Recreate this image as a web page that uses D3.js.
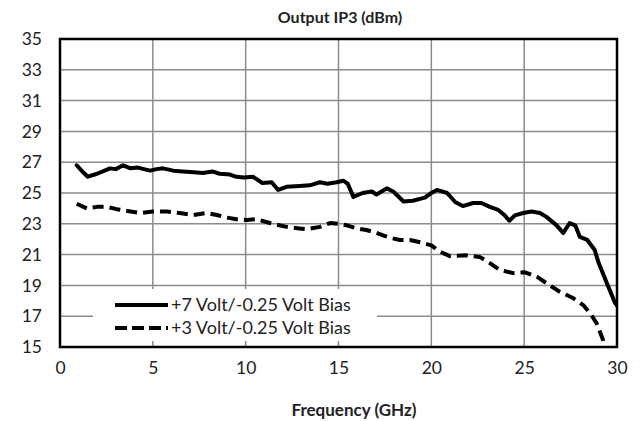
<!DOCTYPE html>
<html>
<head>
<meta charset="utf-8">
<script src="https://cdn.jsdelivr.net/npm/d3@7"></script>
<style>
  html, body { margin: 0; padding: 0; background: #fff; }
  svg text { font-family: Lato, "Open Sans", sans-serif; fill: #222; }
</style>
</head>
<body>
<svg id="chart" width="642" height="421"></svg>
<script>
// Output IP3 versus frequency for two bias conditions
const seriesNames = ["+7 Volt/-0.25 Volt Bias", "+3 Volt/-0.25 Volt Bias"];

const freqHigh = [0.9, 1.2, 1.5, 2.0, 2.4, 2.7, 3.0, 3.4, 3.8, 4.2, 4.85, 5.2, 5.55, 6.1, 6.6, 7.2, 7.7, 8.2, 8.6, 9.15, 9.5, 9.9, 10.4, 10.9, 11.4, 11.75, 12.2, 12.9, 13.45, 14.0, 14.4, 14.9, 15.25, 15.5, 15.8, 16.3, 16.8, 17.05, 17.6, 17.95, 18.5, 19.0, 19.65, 20.0, 20.3, 20.85, 21.3, 21.7, 22.25, 22.7, 23.15, 23.6, 23.95, 24.2, 24.5, 24.95, 25.4, 25.85, 26.2, 26.75, 27.1, 27.45, 27.75, 28.0, 28.4, 28.8, 29.0, 29.45, 29.9, 30.0];
const ip3High  = [26.8, 26.4, 26.06, 26.25, 26.45, 26.6, 26.55, 26.8, 26.6, 26.65, 26.45, 26.55, 26.6, 26.45, 26.4, 26.35, 26.3, 26.4, 26.25, 26.2, 26.05, 26.0, 26.05, 25.65, 25.7, 25.2, 25.4, 25.45, 25.5, 25.7, 25.6, 25.7, 25.8, 25.6, 24.75, 25.0, 25.1, 24.9, 25.3, 25.1, 24.45, 24.5, 24.7, 25.0, 25.2, 25.0, 24.4, 24.15, 24.35, 24.35, 24.1, 23.9, 23.55, 23.2, 23.55, 23.7, 23.8, 23.7, 23.45, 22.9, 22.4, 23.05, 22.9, 22.15, 21.95, 21.3, 20.5, 19.15, 17.85, 17.7];

const freqLow = [0.9, 1.45, 2.0, 2.5, 3.05, 3.8, 4.3, 5.0, 5.75, 6.45, 7.2, 7.9, 8.45, 9.0, 9.5, 10.05, 10.6, 11.3, 12.2, 12.9, 13.3, 14.0, 14.55, 15.0, 15.45, 16.0, 16.5, 16.95, 17.4, 17.75, 18.3, 18.85, 19.4, 20.0, 20.45, 21.0, 21.9, 22.6, 23.15, 23.7, 24.4, 25.05, 25.7, 26.2, 26.9, 27.6, 28.2, 28.55, 28.9, 29.25, 29.4];
const ip3Low  = [24.3, 24.0, 24.1, 24.1, 23.95, 23.8, 23.7, 23.8, 23.8, 23.7, 23.57, 23.7, 23.57, 23.4, 23.3, 23.25, 23.3, 23.05, 22.8, 22.7, 22.65, 22.8, 23.05, 23.0, 22.9, 22.7, 22.6, 22.45, 22.25, 22.1, 21.95, 21.95, 21.8, 21.6, 21.2, 20.9, 20.95, 20.85, 20.45, 20.0, 19.8, 19.85, 19.55, 19.15, 18.6, 18.2, 17.7, 17.2, 16.55, 15.45, 14.6];

const xTicks = [0, 5, 10, 15, 20, 25, 30];
const yTicks = [15, 17, 19, 21, 23, 25, 27, 29, 31, 33, 35];

const titleText = "Output IP3 (dBm)";
const xTitleText = "Frequency (GHz)";

const svg = d3.select("#chart");
const plot = { left: 60, right: 617, top: 39, bottom: 347 };

const x = d3.scaleLinear().domain([0, 30]).range([plot.left, plot.right]);
const y = d3.scaleLinear().domain([15, 35]).range([plot.bottom, plot.top]);

// clip region for the curves
svg.append("defs").append("clipPath").attr("id", "plotClip")
  .append("rect")
  .attr("x", plot.left).attr("y", plot.top)
  .attr("width", plot.right - plot.left).attr("height", plot.bottom - plot.top);

// gridlines
const grid = svg.append("g").attr("stroke", "#8c8c8c").attr("stroke-width", 1.5);
grid.selectAll("line.gx").data(xTicks.slice(1, -1)).join("line")
  .attr("x1", d => x(d)).attr("x2", d => x(d))
  .attr("y1", plot.top).attr("y2", plot.bottom);
grid.selectAll("line.gy").data(yTicks.slice(1, -1)).join("line")
  .attr("x1", plot.left).attr("x2", plot.right)
  .attr("y1", d => y(d)).attr("y2", d => y(d));

// axes (labels only; frame is drawn separately)
const xAxis = svg.append("g")
  .attr("transform", `translate(0,${plot.bottom})`)
  .call(d3.axisBottom(x).tickValues(xTicks).tickSize(0).tickPadding(15));
const yAxis = svg.append("g")
  .attr("transform", `translate(${plot.left},0)`)
  .call(d3.axisLeft(y).tickValues(yTicks).tickSize(0).tickPadding(18));
[xAxis, yAxis].forEach(a => {
  a.select(".domain").remove();
  a.selectAll("text").style("font-size", "17.5px").attr("fill", "#222");
});

// curves
const line = d3.line().x(d => x(d[0])).y(d => y(d[1])).curve(d3.curveLinear);
const curves = svg.append("g").attr("clip-path", "url(#plotClip)");
curves.append("path")
  .datum(d3.zip(freqHigh, ip3High))
  .attr("d", line)
  .attr("fill", "none").attr("stroke", "#000")
  .attr("stroke-width", 4).attr("stroke-linejoin", "round").attr("stroke-linecap", "round");
curves.append("path")
  .datum(d3.zip(freqLow, ip3Low))
  .attr("d", line)
  .attr("fill", "none").attr("stroke", "#000")
  .attr("stroke-width", 4).attr("stroke-dasharray", "11,6").attr("stroke-linejoin", "round");

// legend with white background
const legend = svg.append("g");
legend.append("rect")
  .attr("x", 93).attr("y", 289).attr("width", 284).attr("height", 52)
  .attr("fill", "#fff");
const legendRows = [
  { name: seriesNames[0], dash: null, yy: 305 },
  { name: seriesNames[1], dash: "12,5", yy: 328 }
];
legendRows.forEach(r => {
  legend.append("line")
    .attr("x1", 115).attr("x2", 168).attr("y1", r.yy).attr("y2", r.yy)
    .attr("stroke", "#000").attr("stroke-width", 4)
    .attr("stroke-dasharray", r.dash);
  legend.append("text")
    .attr("x", 171).attr("y", r.yy).attr("dy", "0.35em")
    .style("font-size", "18px")
    .text(r.name);
});

// plot frame
svg.append("rect")
  .attr("x", plot.left).attr("y", plot.top)
  .attr("width", plot.right - plot.left).attr("height", plot.bottom - plot.top)
  .attr("fill", "none").attr("stroke", "#000").attr("stroke-width", 2.5);

// titles
svg.append("text")
  .attr("x", 340).attr("y", 17).attr("dy", "0.35em")
  .attr("text-anchor", "middle")
  .style("font-size", "16px").style("font-weight", "bold")
  .text(titleText);
svg.append("text")
  .attr("x", 354).attr("y", 410).attr("dy", "0.35em")
  .attr("text-anchor", "middle")
  .style("font-size", "17px").style("font-weight", "bold")
  .text(xTitleText);
</script>
</body>
</html>
